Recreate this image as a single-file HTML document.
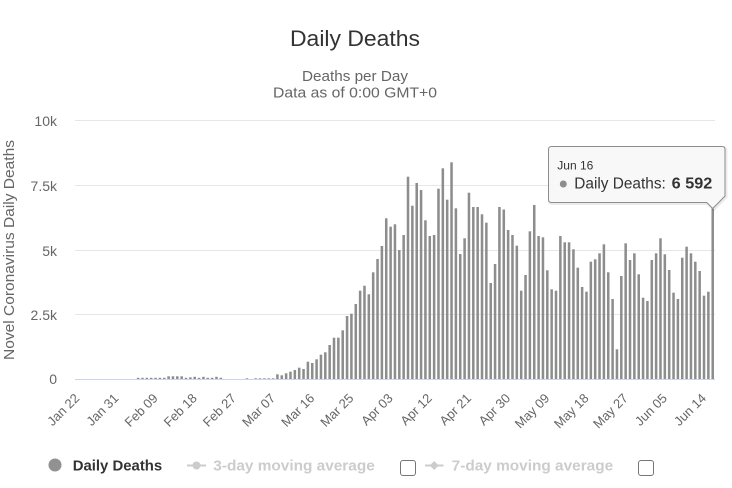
<!DOCTYPE html>
<html><head><meta charset="utf-8">
<style>
html,body{margin:0;padding:0;background:#fff;width:732px;height:488px;overflow:hidden;}
svg{display:block;font-family:"Liberation Sans",Arial,sans-serif;}
</style></head>
<body>
<svg width="732" height="488" viewBox="0 0 732 488" xmlns="http://www.w3.org/2000/svg" overflow="hidden">
<rect width="732" height="488" fill="#fff"/>
<!-- titles -->
<text x="355" y="46" text-anchor="middle" font-size="22" fill="#333" textLength="130" lengthAdjust="spacingAndGlyphs">Daily Deaths</text>
<text x="355" y="81" text-anchor="middle" font-size="14.5" fill="#666" textLength="106" lengthAdjust="spacingAndGlyphs">Deaths per Day</text>
<text x="355" y="97.5" text-anchor="middle" font-size="14.5" fill="#666" textLength="164" lengthAdjust="spacingAndGlyphs">Data as of 0:00 GMT+0</text>
<!-- grid -->
<g stroke="#e6e6e6" stroke-width="1">
<line x1="75" y1="120.5" x2="715" y2="120.5"/>
<line x1="75" y1="185.5" x2="715" y2="185.5"/>
<line x1="75" y1="250.5" x2="715" y2="250.5"/>
<line x1="75" y1="314.5" x2="715" y2="314.5"/>
</g>
<!-- y labels -->
<g font-size="14" fill="#666" text-anchor="end">
<text x="57" y="126">10k</text>
<text x="57" y="191">7.5k</text>
<text x="57" y="256">5k</text>
<text x="57" y="320">2.5k</text>
<text x="57" y="384">0</text>
</g>
<text x="14" y="250" transform="rotate(-90 14 250)" text-anchor="middle" font-size="15" fill="#666" textLength="220" lengthAdjust="spacingAndGlyphs">Novel Coronavirus Daily Deaths</text>
<!-- bars: y = top, height = 379.3 - top -->
<g transform="translate(75.92 0) scale(4.353 1)" fill="#8d8d8d">
<rect x="14" y="377.8" width=".58" height="1.5"/>
<rect x="15" y="377.8" width=".58" height="1.5"/>
<rect x="16" y="377.8" width=".58" height="1.5"/>
<rect x="17" y="377.8" width=".58" height="1.5"/>
<rect x="18" y="377.8" width=".58" height="1.5"/>
<rect x="19" y="377.8" width=".58" height="1.5"/>
<rect x="20" y="377.8" width=".58" height="1.5"/>
<rect x="21" y="376.3" width=".58" height="3"/>
<rect x="22" y="376.3" width=".58" height="3"/>
<rect x="23" y="376.3" width=".58" height="3"/>
<rect x="24" y="376.3" width=".58" height="3"/>
<rect x="25" y="377.8" width=".58" height="1.5"/>
<rect x="26" y="377.3" width=".58" height="2"/>
<rect x="27" y="376.8" width=".58" height="2.5"/>
<rect x="28" y="377.8" width=".58" height="1.5"/>
<rect x="29" y="376.8" width=".58" height="2.5"/>
<rect x="30" y="377.8" width=".58" height="1.5"/>
<rect x="31" y="377.8" width=".58" height="1.5"/>
<rect x="32" y="376.8" width=".58" height="2.5"/>
<rect x="33" y="377.8" width=".58" height="1.5"/>
<rect x="39" y="378.3" width=".58" height="1"/>
<rect x="41" y="378.3" width=".58" height="1"/>
<rect x="42" y="378.3" width=".58" height="1"/>
<rect x="43" y="378.3" width=".58" height="1"/>
<rect x="44" y="378.3" width=".58" height="1"/>
<rect x="45" y="378.3" width=".58" height="1"/>
<rect x="46" y="374.3" width=".58" height="5"/>
<rect x="47" y="375.3" width=".58" height="4"/>
<rect x="48" y="373.3" width=".58" height="6"/>
<rect x="49" y="371.7" width=".58" height="7.6"/>
<rect x="50" y="370" width=".58" height="9.3"/>
<rect x="51" y="367.7" width=".58" height="11.6"/>
<rect x="52" y="369" width=".58" height="10.3"/>
<rect x="53" y="361.7" width=".58" height="17.6"/>
<rect x="54" y="363" width=".58" height="16.3"/>
<rect x="55" y="359.3" width=".58" height="20"/>
<rect x="56" y="354.7" width=".58" height="24.6"/>
<rect x="57" y="352.3" width=".58" height="27"/>
<rect x="58" y="345" width=".58" height="34.3"/>
<rect x="59" y="337.7" width=".58" height="41.6"/>
<rect x="60" y="337.7" width=".58" height="41.6"/>
<rect x="61" y="330.3" width=".58" height="49"/>
<rect x="62" y="316" width=".58" height="63.3"/>
<rect x="63" y="313.7" width=".58" height="65.6"/>
<rect x="64" y="304" width=".58" height="75.3"/>
<rect x="65" y="290.7" width=".58" height="88.6"/>
<rect x="66" y="285.7" width=".58" height="93.6"/>
<rect x="67" y="294.3" width=".58" height="85"/>
<rect x="68" y="272.3" width=".58" height="107"/>
<rect x="69" y="259" width=".58" height="120.3"/>
<rect x="70" y="246" width=".58" height="133.3"/>
<rect x="71" y="218.3" width=".58" height="161"/>
<rect x="72" y="226.7" width=".58" height="152.6"/>
<rect x="73" y="224.3" width=".58" height="155"/>
<rect x="74" y="250" width=".58" height="129.3"/>
<rect x="75" y="235" width=".58" height="144.3"/>
<rect x="76" y="176.7" width=".58" height="202.6"/>
<rect x="77" y="205.7" width=".58" height="173.6"/>
<rect x="78" y="183" width=".58" height="196.3"/>
<rect x="79" y="190" width=".58" height="189.3"/>
<rect x="80" y="220.3" width=".58" height="159"/>
<rect x="81" y="236" width=".58" height="143.3"/>
<rect x="82" y="235" width=".58" height="144.3"/>
<rect x="83" y="188.7" width=".58" height="190.6"/>
<rect x="84" y="168.3" width=".58" height="211"/>
<rect x="85" y="199.7" width=".58" height="179.6"/>
<rect x="86" y="162.3" width=".58" height="217"/>
<rect x="87" y="208.3" width=".58" height="171"/>
<rect x="88" y="254" width=".58" height="125.3"/>
<rect x="89" y="238.3" width=".58" height="141"/>
<rect x="90" y="192.7" width=".58" height="186.6"/>
<rect x="91" y="207" width=".58" height="172.3"/>
<rect x="92" y="207" width=".58" height="172.3"/>
<rect x="93" y="214.3" width=".58" height="165"/>
<rect x="94" y="222.7" width=".58" height="156.6"/>
<rect x="95" y="283" width=".58" height="96.3"/>
<rect x="96" y="264" width=".58" height="115.3"/>
<rect x="97" y="207" width=".58" height="172.3"/>
<rect x="98" y="209.5" width=".58" height="169.8"/>
<rect x="99" y="230" width=".58" height="149.3"/>
<rect x="100" y="235" width=".58" height="144.3"/>
<rect x="101" y="245.7" width=".58" height="133.6"/>
<rect x="102" y="290.7" width=".58" height="88.6"/>
<rect x="103" y="275" width=".58" height="104.3"/>
<rect x="104" y="231.3" width=".58" height="148"/>
<rect x="105" y="205" width=".58" height="174.3"/>
<rect x="106" y="236" width=".58" height="143.3"/>
<rect x="107" y="237.3" width=".58" height="142"/>
<rect x="108" y="270.3" width=".58" height="109"/>
<rect x="109" y="289.3" width=".58" height="90"/>
<rect x="110" y="290.7" width=".58" height="88.6"/>
<rect x="111" y="236" width=".58" height="143.3"/>
<rect x="112" y="242.3" width=".58" height="137"/>
<rect x="113" y="242.3" width=".58" height="137"/>
<rect x="114" y="249.3" width=".58" height="130"/>
<rect x="115" y="267.7" width=".58" height="111.6"/>
<rect x="116" y="287" width=".58" height="92.3"/>
<rect x="117" y="291.7" width=".58" height="87.6"/>
<rect x="118" y="261.7" width=".58" height="117.6"/>
<rect x="119" y="259.3" width=".58" height="120"/>
<rect x="120" y="253.3" width=".58" height="126"/>
<rect x="121" y="244.3" width=".58" height="135"/>
<rect x="122" y="272.3" width=".58" height="107"/>
<rect x="123" y="299" width=".58" height="80.3"/>
<rect x="124" y="349.3" width=".58" height="30"/>
<rect x="125" y="276" width=".58" height="103.3"/>
<rect x="126" y="243.3" width=".58" height="136"/>
<rect x="127" y="260" width=".58" height="119.3"/>
<rect x="128" y="253.3" width=".58" height="126"/>
<rect x="129" y="274.3" width=".58" height="105"/>
<rect x="130" y="297.7" width=".58" height="81.6"/>
<rect x="131" y="301" width=".58" height="78.3"/>
<rect x="132" y="260" width=".58" height="119.3"/>
<rect x="133" y="253.3" width=".58" height="126"/>
<rect x="134" y="238.3" width=".58" height="141"/>
<rect x="135" y="254.3" width=".58" height="125"/>
<rect x="136" y="270" width=".58" height="109.3"/>
<rect x="137" y="292.7" width=".58" height="86.6"/>
<rect x="138" y="299" width=".58" height="80.3"/>
<rect x="139" y="257.7" width=".58" height="121.6"/>
<rect x="140" y="246.7" width=".58" height="132.6"/>
<rect x="141" y="253.3" width=".58" height="126"/>
<rect x="142" y="261.7" width=".58" height="117.6"/>
<rect x="143" y="271" width=".58" height="108.3"/>
<rect x="144" y="295.7" width=".58" height="83.6"/>
<rect x="145" y="291.7" width=".58" height="87.6"/>
<rect x="146" y="208.8" width=".58" height="170.5"/>
</g>
<!-- x axis line -->
<line x1="75" y1="379.5" x2="715" y2="379.5" stroke="#ccd6eb" stroke-width="1"/>
<!-- x labels -->
<g font-size="13" fill="#666" text-anchor="end">
<text x="80.2" y="399" transform="rotate(-45 80.2 399)">Jan 22</text>
<text x="119.4" y="399" transform="rotate(-45 119.4 399)">Jan 31</text>
<text x="158.6" y="399" transform="rotate(-45 158.6 399)">Feb 09</text>
<text x="197.7" y="399" transform="rotate(-45 197.7 399)">Feb 18</text>
<text x="236.9" y="399" transform="rotate(-45 236.9 399)">Feb 27</text>
<text x="276.1" y="399" transform="rotate(-45 276.1 399)">Mar 07</text>
<text x="315.3" y="399" transform="rotate(-45 315.3 399)">Mar 16</text>
<text x="354.4" y="399" transform="rotate(-45 354.4 399)">Mar 25</text>
<text x="393.6" y="399" transform="rotate(-45 393.6 399)">Apr 03</text>
<text x="432.8" y="399" transform="rotate(-45 432.8 399)">Apr 12</text>
<text x="472.0" y="399" transform="rotate(-45 472.0 399)">Apr 21</text>
<text x="511.1" y="399" transform="rotate(-45 511.1 399)">Apr 30</text>
<text x="550.3" y="399" transform="rotate(-45 550.3 399)">May 09</text>
<text x="589.5" y="399" transform="rotate(-45 589.5 399)">May 18</text>
<text x="628.7" y="399" transform="rotate(-45 628.7 399)">May 27</text>
<text x="667.9" y="399" transform="rotate(-45 667.9 399)">Jun 05</text>
<text x="707.0" y="399" transform="rotate(-45 707.0 399)">Jun 14</text>
</g>
<!-- legend -->
<circle cx="55" cy="465" r="6.5" fill="#919191"/>
<text x="72.7" y="470.7" font-size="15" font-weight="bold" fill="#333" textLength="89.5" lengthAdjust="spacingAndGlyphs">Daily Deaths</text>
<line x1="187" y1="465.5" x2="206" y2="465.5" stroke="#ccc" stroke-width="2"/>
<circle cx="196.5" cy="465.5" r="4" fill="#ccc"/>
<text x="213.3" y="470.7" font-size="15" font-weight="bold" fill="#ccc" textLength="161.5" lengthAdjust="spacingAndGlyphs">3-day moving average</text>
<rect x="400.5" y="460.5" width="15" height="15" rx="2.5" fill="#fff" stroke="#767676" stroke-width="1"/>
<line x1="425" y1="465.5" x2="443.5" y2="465.5" stroke="#ccc" stroke-width="2"/>
<path d="M434.2 461 L438.7 465.5 L434.2 470 L429.7 465.5 Z" fill="#ccc"/>
<text x="451.7" y="470.7" font-size="15" font-weight="bold" fill="#ccc" textLength="161.5" lengthAdjust="spacingAndGlyphs">7-day moving average</text>
<rect x="638.5" y="460.5" width="15" height="15" rx="2.5" fill="#fff" stroke="#767676" stroke-width="1"/>
<!-- tooltip -->
<path transform="translate(1 1)" d="M551.5 146.5 L722 146.5 Q725 146.5 725 149.5 L725 196 L718.7 202.5 L712.7 208.5 L706.7 202.5 L551.5 202.5 Q548.5 202.5 548.5 199.5 L548.5 149.5 Q548.5 146.5 551.5 146.5 Z" fill="none" stroke="rgba(0,0,0,0.08)" stroke-width="3"/>
<path d="M551.5 146.5 L722 146.5 Q725 146.5 725 149.5 L725 196 L718.7 202.5 L712.7 208.5 L706.7 202.5 L551.5 202.5 Q548.5 202.5 548.5 199.5 L548.5 149.5 Q548.5 146.5 551.5 146.5 Z" fill="rgba(247,247,247,0.92)" stroke="#8d8d8d" stroke-width="1"/>
<text x="557.3" y="169.3" font-size="12" fill="#333">Jun 16</text>
<circle cx="563.3" cy="184" r="3.5" fill="#8d8d8d"/>
<text x="574.3" y="188.3" font-size="15.5" fill="#333" textLength="91.5" lengthAdjust="spacingAndGlyphs">Daily Deaths:</text>
<text x="671.7" y="188.3" font-size="15.5" font-weight="bold" fill="#333" textLength="40.6" lengthAdjust="spacingAndGlyphs">6 592</text>
</svg>
</body></html>
